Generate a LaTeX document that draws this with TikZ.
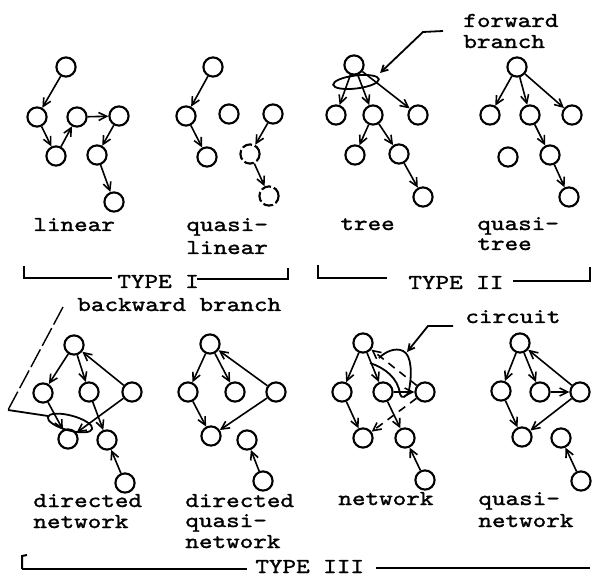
\documentclass[tikz,border=0pt]{standalone}
\usepackage{fontspec}
\newfontfamily\tw{Latin Modern Mono}[FakeStretch=1.22,FakeBold=1.4]
\usetikzlibrary{arrows.meta}
\begin{document}
\begin{tikzpicture}[x=0.5pt,y=-0.5pt,
  v/.style={circle,draw,line width=1.05pt,minimum size=9.6pt,inner sep=0pt},
  vd/.style={v,dash pattern=on 5pt off 1.5pt},
  e/.style={line width=0.8pt,-{Straight Barb[length=4pt,width=4pt]}},
  ed/.style={e,dash pattern=on 4pt off 3pt},
  lbl/.style={font={\tw\fontsize{10.6}{13}\selectfont},inner sep=0pt,anchor=base west},
  br/.style={line width=1pt},
  lead/.style={line width=0.9pt},
  leadarrow/.style={lead,-{Straight Barb[length=3.2pt,width=3.4pt]}}]
\useasboundingbox (0,0) rectangle (593,576);

% ---------- linear ----------
\node[v] (l1) at (66,67) {};
\node[v] (l2) at (37,117) {};
\node[v] (l3) at (56,156) {};
\node[v] (l4) at (77,117) {};
\node[v] (l5) at (119,116) {};
\node[v] (l6) at (97,155) {};
\node[v] (l7) at (114,202) {};
\draw[e] (l1)--(l2);
\draw[e] (l2)--(l3);
\draw[e] (l3)--(l4);
\draw[e] (l4)--(l5);
\draw[e] (l5)--(l6);
\draw[e] (l6)--(l7);
\node[lbl] (tlin) at (33,231) {linear};

% ---------- quasi-linear ----------
\node[v] (q1) at (213,67) {};
\node[v] (q2) at (186,116) {};
\node[v] (q3) at (207,157) {};
\node[v] (q4) at (229,114) {};
\node[v] (q5) at (273,114) {};
\node[vd] (q6) at (250,154) {};
\node[vd] (q7) at (269,196) {};
\draw[e] (q1)--(q2);
\draw[e] (q2)--(q3);
\draw[e] (q5)--(q6);
\draw[e] (q6)--(q7);
\node[lbl] (tql1) at (186,231) {quasi-};
\node[lbl] (tql2) at (186,254) {linear};

\draw[br] (24,266)--(24,278)--(112,278);
\node[lbl] (ttI) at (117,288) {TYPE I};
\draw[br] (197,279)--(288,279)--(288,268);

% ---------- tree ----------
\node[v] (t1) at (354,65) {};
\node[v] (t2) at (336,115) {};
\node[v] (t3) at (373,115) {};
\node[v] (t4) at (418,115) {};
\node[v] (t5) at (355,155) {};
\node[v] (t6) at (399,154) {};
\node[v] (t7) at (423,197) {};
\draw[e] (t1)--(t2);
\draw[e] (t1)--(t3);
\draw[e] (t1)--(t4);
\draw[e] (t3)--(t5);
\draw[e] (t3)--(t6);
\draw[e] (t6)--(t7);
\draw[lead,rotate around={7:(356,82)}] (356,82) ellipse [x radius=23, y radius=6.5];
\coordinate (fb1) at (443,31);
\coordinate (fb2) at (423,32);
\coordinate (fb3) at (380,73);
\draw[leadarrow] (fb1)--(fb2)--(fb3);
\node[lbl] (tfw1) at (463,27) {forward};
\node[lbl] (tfw2) at (463,48) {branch};
\node[lbl] (ttree) at (340,230) {tree};

% ---------- quasi-tree ----------
\node[v] (u1) at (517,67) {};
\node[v] (u2) at (490,115) {};
\node[v] (u3) at (530,115) {};
\node[v] (u4) at (572,115) {};
\node[v] (u5) at (508,157) {};
\node[v] (u6) at (550,155) {};
\node[v] (u7) at (569,197) {};
\draw[e] (u1)--(u2);
\draw[e] (u1)--(u3);
\draw[e] (u1)--(u4);
\draw[e] (u3)--(u6);
\draw[e] (u6)--(u7);
\node[lbl] (tqt1) at (477,230) {quasi-};
\node[lbl] (tqt2) at (477,250) {tree};

\draw[br] (318,265)--(318,278)--(387,278);
\node[lbl] (ttII) at (408,289) {TYPE II};
\draw[br] (513,281)--(590,281)--(590,267);

% ---------- directed network ----------
\node[lbl] (tbb) at (77,311) {backward branch};
\node[v] (dn1) at (74,345) {};
\node[v] (dn2) at (43,393) {};
\node[v] (dn3) at (89,392) {};
\node[v] (dn4) at (132,392) {};
\node[v] (dn5) at (68,439) {};
\node[v] (dn6) at (107,440) {};
\node[v] (dn7) at (125,483) {};
\draw[e] (dn1)--(dn2);
\draw[e] (dn1)--(dn3);
\draw[e] (dn4)--(dn1);
\draw[e] (dn2)--(dn5);
\draw[e] (dn3)--(dn6);
\draw[e] (dn4)--(dn5);
\draw[e] (dn7)--(dn6);
\draw[lead,rotate around={-15:(70,423)}] (70,423) ellipse [x radius=23, y radius=7.5];
\coordinate (bb1) at (63,307);
\coordinate (bb2) at (8,410);
\coordinate (bb3) at (48,416);
\draw[line width=0.7pt,dash pattern=on 10pt off 2pt] (bb1)--(bb2);
\draw[lead] (bb2)--(bb3);
\node[lbl] (tdn1) at (33,507) {directed};
\node[lbl] (tdn2) at (33,528) {network};

% ---------- directed quasi-network ----------
\node[v] (dq1) at (210,344) {};
\node[v] (dq2) at (188,392) {};
\node[v] (dq3) at (235,392) {};
\node[v] (dq4) at (276,392) {};
\node[v] (dq5) at (211,436) {};
\node[v] (dq6) at (247,440) {};
\node[v] (dq7) at (263,481) {};
\draw[e] (dq1)--(dq2);
\draw[e] (dq1)--(dq3);
\draw[e] (dq4)--(dq1);
\draw[e] (dq2)--(dq5);
\draw[e] (dq4)--(dq5);
\draw[e] (dq7)--(dq6);
\node[lbl] (tdq1) at (185,507) {directed};
\node[lbl] (tdq2) at (185,527) {quasi-};
\node[lbl] (tdq3) at (185,548) {network};

% ---------- network ----------
\node[lbl] (tcir) at (465,323) {circuit};
\node[v] (n1) at (363,343) {};
\node[v] (n2) at (342,392) {};
\node[v] (n3) at (383,392) {};
\node[v] (n4) at (425,392) {};
\node[v] (n5) at (363,438) {};
\node[v] (n6) at (405,438) {};
\node[v] (n7) at (425,480) {};
\draw[e] (n1)--(n2);
\draw[e] (n1)--(n3);
\draw[ed] (n4)--(n1);
\draw[e] (n3)--(n4);
\draw[e] (n2)--(n5);
\draw[ed] (n4)--(n5);
\draw[e] (n3)--(n6);
\draw[e] (n7)--(n6);
\draw[lead] (370,363) .. controls (385,368) and (398,378) .. (400,394)
  .. controls (401,399) and (407,398) .. (409,390)
  .. controls (412,375) and (412,355) .. (403,351)
  .. controls (395,347) and (385,352) .. (379,358);
\coordinate (ci1) at (453,326);
\coordinate (ci2) at (428,326);
\coordinate (ci3) at (407,352);
\draw[leadarrow] (ci1)--(ci2)--(ci3);
\node[lbl] (tnet) at (338,505) {network};

% ---------- quasi-network ----------
\node[v] (qn1) at (520,343) {};
\node[v] (qn2) at (501,391) {};
\node[v] (qn3) at (540,392) {};
\node[v] (qn4) at (580,392) {};
\node[v] (qn5) at (522,437) {};
\node[v] (qn6) at (561,438) {};
\node[v] (qn7) at (581,481) {};
\draw[e] (qn1)--(qn2);
\draw[e] (qn1)--(qn3);
\draw[e] (qn4)--(qn1);
\draw[e] (qn3)--(qn4);
\draw[e] (qn2)--(qn5);
\draw[e] (qn4)--(qn5);
\draw[e] (qn7)--(qn6);
\node[lbl] (tqn1) at (478,505) {quasi-};
\node[lbl] (tqn2) at (478,527) {network};

% ---------- TYPE III ----------
\draw[br] (22,569)--(247,569);
\draw[br] (22,569)--(22,556)--(27,555);
\node[lbl] (ttIII) at (255,573) {TYPE III};
\draw[br] (376,568)--(590,568);
\end{tikzpicture}
\end{document}
